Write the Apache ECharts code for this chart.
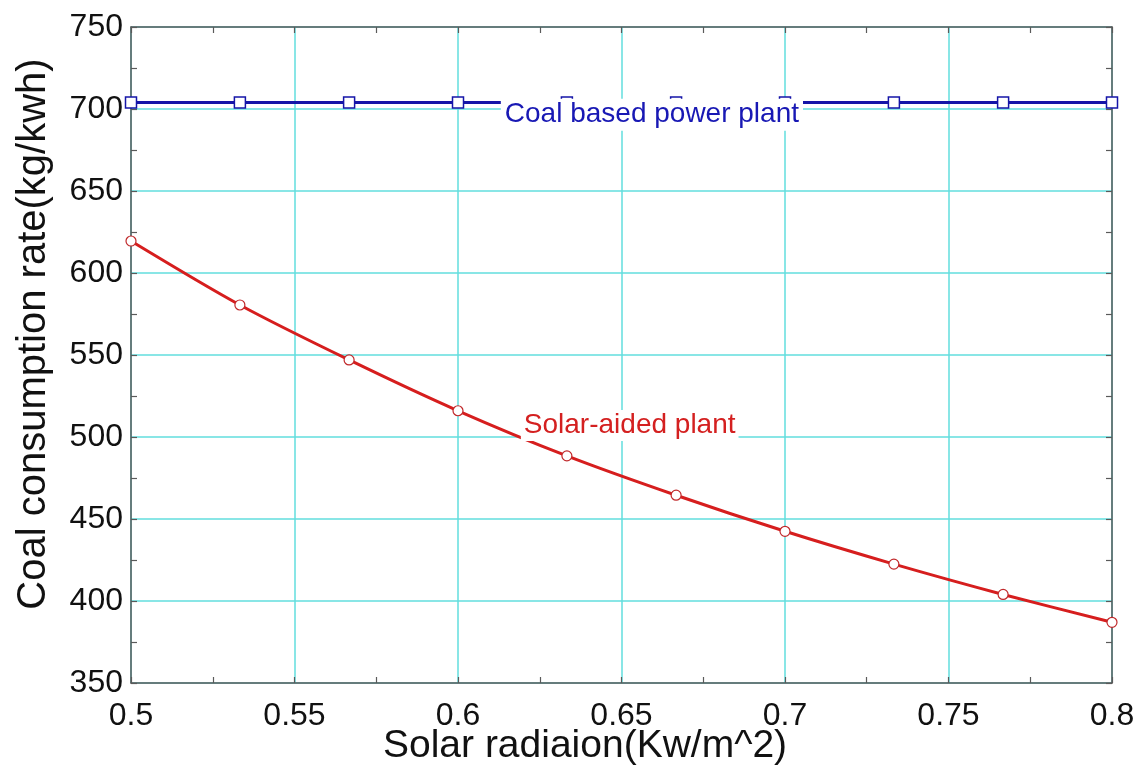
<!DOCTYPE html>
<html>
<head>
<meta charset="utf-8">
<script src="https://cdn.jsdelivr.net/npm/echarts@6/dist/echarts.min.js"></script>
<style>
html,body{margin:0;padding:0;background:#fff;}
#chart{width:1139px;height:767px;}
</style>
</head>
<body>
<div id="chart"></div>
<script>
const radiation = [0.5, 0.5333, 0.5667, 0.6, 0.6333, 0.6667, 0.7, 0.7333, 0.7667, 0.8];
const solarAided = [619.5, 580.5, 547, 516, 488.5, 464.5, 442.5, 422.5, 404, 387];
const coalBased = [704, 704, 704, 704, 704, 704, 704, 704, 704, 704];
const coalLabel = 'Coal based power plant';
const solarLabel = 'Solar-aided plant';
const coalLabelAt = [0.6593, 696.5];
const solarLabelAt = [0.6525, 507];
const xTitle = 'Solar radiaion(Kw/m^2)';
const yTitle = 'Coal consumption rate(kg/kwh)';

const FONT = '"Liberation Sans", Arial, sans-serif';
const GRID = '#62dede';
const FRAME = '#5a5a5a';

const chart = echarts.init(document.getElementById('chart'), null, {renderer: 'canvas'});

function axisCommon(showLabel) {
  return {
    axisLine: {show: true, onZero: false, lineStyle: {color: FRAME, width: 1.5}},
    axisTick: {show: true, inside: true, length: 6, lineStyle: {color: FRAME, width: 1.2}},
    minorTick: {show: true, splitNumber: 2, length: 6, lineStyle: {color: FRAME, width: 1.2}},
    axisLabel: {show: showLabel, color: '#111', fontFamily: FONT, fontSize: 32},
  };
}

const option = {
  backgroundColor: '#fff',
  animation: false,
  grid: {left: 131, right: 27, top: 27, bottom: 84, containLabel: false},
  xAxis: [
    Object.assign(axisCommon(true), {
      type: 'value', min: 0.5, max: 0.8, interval: 0.05, position: 'bottom',
      splitLine: {show: true, lineStyle: {color: GRID, width: 1.5}},
      axisLabel: {show: true, color: '#111', fontFamily: FONT, fontSize: 32, margin: 17,
        formatter: v => String(+v.toFixed(2))}
    }),
    Object.assign(axisCommon(false), {
      type: 'value', min: 0.5, max: 0.8, interval: 0.05, position: 'top',
      splitLine: {show: false}
    })
  ],
  yAxis: [
    Object.assign(axisCommon(true), {
      type: 'value', min: 350, max: 750, interval: 50, position: 'left',
      splitLine: {show: true, lineStyle: {color: GRID, width: 1.5}},
      axisLabel: {show: true, color: '#111', fontFamily: FONT, fontSize: 32, margin: 8}
    }),
    Object.assign(axisCommon(false), {
      type: 'value', min: 350, max: 750, interval: 50, position: 'right',
      splitLine: {show: false}
    })
  ],
  graphic: [
    {type: 'text', left: 383, top: 727, z: 10,
      style: {text: xTitle, font: '39px ' + FONT, fill: '#111'}},
    {type: 'text', x: 34, y: 334, rotation: Math.PI / 2, z: 10,
      style: {text: yTitle, font: '40px ' + FONT, fill: '#111', align: 'center', verticalAlign: 'middle'}}
  ],
  series: [
    {
      name: 'Coal based power plant',
      type: 'line',
      data: radiation.map((x, i) => [x, coalBased[i]]),
      symbol: 'rect', symbolSize: 11, showAllSymbol: true,
      lineStyle: {color: '#1515a8', width: 3},
      itemStyle: {color: '#ffffff', borderColor: '#1515a8', borderWidth: 1.5},
      z: 3,
      markPoint: {
        symbol: 'rect', symbolSize: [1, 1],
        itemStyle: {color: 'rgba(0,0,0,0)'},
        label: {show: true, position: 'inside', formatter: coalLabel,
          color: '#1818b4', fontFamily: FONT, fontSize: 28,
          backgroundColor: '#fff', padding: [2, 4, 2, 4]},
        data: [{coord: coalLabelAt}],
        z: 5
      }
    },
    {
      name: 'Solar-aided plant',
      type: 'line',
      data: radiation.map((x, i) => [x, solarAided[i]]),
      smooth: 0.3,
      symbol: 'circle', symbolSize: 10, showAllSymbol: true,
      lineStyle: {color: '#d61e1e', width: 3},
      itemStyle: {color: '#ffffff', borderColor: '#c0282a', borderWidth: 1.2},
      z: 3,
      markPoint: {
        symbol: 'rect', symbolSize: [1, 1],
        itemStyle: {color: 'rgba(0,0,0,0)'},
        label: {show: true, position: 'inside', formatter: solarLabel,
          color: '#d42020', fontFamily: FONT, fontSize: 28,
          backgroundColor: '#fff', padding: [1, 3, 2, 3]},
        data: [{coord: solarLabelAt}],
        z: 5
      }
    }
  ]
};
chart.setOption(option);
</script>
</body>
</html>
